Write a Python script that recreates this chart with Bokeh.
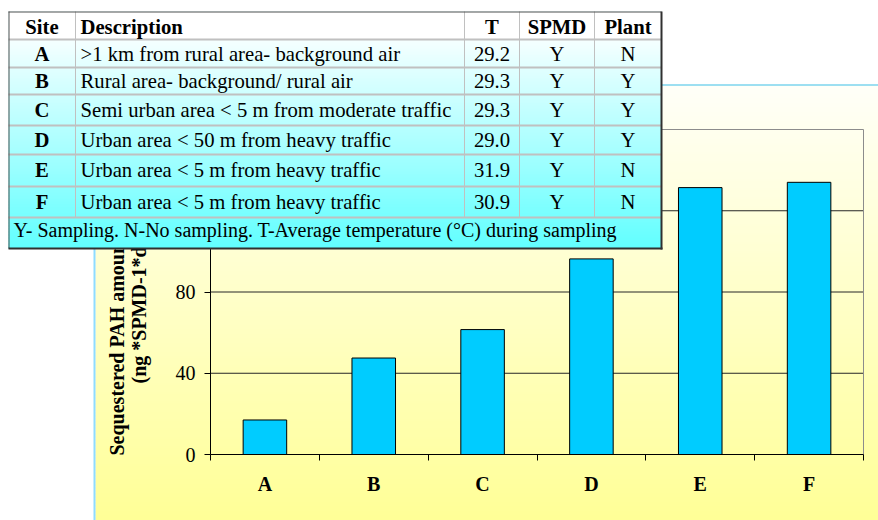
import math
from bokeh.plotting import figure
from bokeh.models import Range1d, FixedTicker, BoxAnnotation, Label
from bokeh.embed import file_html
from bokeh.resources import INLINE

# ---------------- data ----------------
sites = ["A", "B", "C", "D", "E", "F"]
pah_amount = [17, 47.5, 61.5, 96.3, 131.4, 134]
y_ticks = [0, 40, 80, 120, 160]

table_header = ["Site", "Description", "T", "SPMD", "Plant"]
descriptions = [
    ">1 km from rural area- background air",
    "Rural area- background/ rural air",
    "Semi urban area < 5 m from moderate traffic",
    "Urban area < 50 m from heavy traffic",
    "Urban area < 5 m from heavy traffic",
    "Urban area < 5 m from heavy traffic",
]
temperature = ["29.2", "29.3", "29.3", "29.0", "31.9", "30.9"]
spmd = ["Y", "Y", "Y", "Y", "Y", "Y"]
plant = ["N", "Y", "Y", "Y", "N", "N"]
footnote = "Y- Sampling. N-No sampling. T-Average temperature (\u00b0C) during sampling"
y_title = ["Sequestered PAH amount", "(ng *SPMD-1*day-1)"]

# ---------------- layout ----------------
W, H = 878, 520
SERIF = "Liberation Serif"
PX_LEFT, PX_RIGHT, PX_TOP, PX_BOTTOM = 210, 863, 129, 454
n = len(sites)
y_lo, y_hi = y_ticks[0], y_ticks[-1]
ux = (PX_RIGHT - PX_LEFT) / n
uy = (PX_BOTTOM - PX_TOP) / (y_hi - y_lo)
x_range = Range1d(0.5 - PX_LEFT / ux, n + 0.5 + (W - PX_RIGHT) / ux)
y_range = Range1d(y_lo - (H - PX_BOTTOM) / uy, y_hi + PX_TOP / uy)

p = figure(width=W, height=H, output_backend="svg", toolbar_location=None,
           x_range=x_range, y_range=y_range)
p.min_border = 0
p.min_border_left = p.min_border_right = p.min_border_top = p.min_border_bottom = 0
p.border_fill_color = "white"
p.background_fill_color = "white"
p.outline_line_color = None
p.xgrid.visible = False
p.ygrid.visible = False


def cbox(l, r, t, b, color, level):
    p.add_layout(BoxAnnotation(left=l, right=r, top=t, bottom=b,
                               left_units="canvas", right_units="canvas",
                               top_units="canvas", bottom_units="canvas",
                               fill_color=color, fill_alpha=1.0, line_color=None,
                               line_alpha=0, level=level))


# background gradient of the chart area
bg_left, bg_top = 95, 85
top_rgb = (255, 255, 248)
bot_rgb = (255, 255, 150)
step = 3
y = bg_top
while y < H:
    t = (y - bg_top) / (H - bg_top)
    col = tuple(int(round(a + (b - a) * t)) for a, b in zip(top_rgb, bot_rgb))
    cbox(bg_left, W, y, min(y + step + 1, H), "#%02x%02x%02x" % col, "image")
    y += step
cbox(bg_left, W, bg_top - 1, bg_top, "#3cbfe6", "image")
cbox(bg_left - 2, bg_left, bg_top, H, "#8fdcff", "image")

# grid lines and plot border
xs = [i + 1 for i in range(n)]
grid_vals = y_ticks[1:-1]
p.segment(x0=[0.5] * len(grid_vals), x1=[n + 0.5] * len(grid_vals),
          y0=grid_vals, y1=grid_vals, line_color="#262626", line_width=1)
p.segment(x0=[0.5, n + 0.5], x1=[n + 0.5, n + 0.5], y0=[y_hi, 0], y1=[y_hi, y_hi],
          line_color="#8c8c8c", line_width=1)

# bars
p.vbar(x=xs, top=pah_amount, width=0.4, bottom=0,
       fill_color="#00ccff", line_color="black", line_width=1)

# axes (fixed inside the full-canvas frame)
xa = p.xaxis[0]
xa.fixed_location = 0
xa.bounds = (0.5, n + 0.5)
xa.ticker = FixedTicker(ticks=xs, minor_ticks=[i + 0.5 for i in range(n + 1)])
xa.major_label_overrides = {x: s for x, s in zip(xs, sites)}
xa.major_tick_line_color = None
xa.major_tick_out = 0
xa.major_tick_in = 0
xa.minor_tick_line_color = "black"
xa.minor_tick_out = 6
xa.minor_tick_in = 0
xa.axis_line_color = "black"
xa.major_label_standoff = 12
xa.major_label_text_font = SERIF
xa.major_label_text_font_style = "bold"
xa.major_label_text_font_size = "20px"
xa.major_label_text_color = "black"

ya = p.yaxis[0]
ya.fixed_location = 0.5
ya.bounds = (y_lo, y_hi)
ya.ticker = FixedTicker(ticks=y_ticks, minor_ticks=[])
ya.major_tick_out = 6
ya.major_tick_in = 0
ya.major_tick_line_color = "black"
ya.minor_tick_line_color = None
ya.axis_line_color = "black"
ya.major_label_standoff = 9
ya.major_label_text_font = SERIF
ya.major_label_text_font_size = "20px"
ya.major_label_text_color = "black"

# y-axis title (two lines, rotated)
for (tx, ty), txt_ in zip([(116, 455), (138, 383)], y_title):
    p.add_layout(Label(x=tx, y=ty, x_units="canvas", y_units="canvas", text=txt_,
                       angle=math.pi / 2, text_align="left", text_baseline="middle",
                       text_font=SERIF, text_font_style="bold", text_font_size="20px",
                       text_color="black", level="annotation"))

# ---------------- table overlay ----------------
col_x = [8, 75, 464, 519, 594, 661]
row_y = [11, 39, 67, 94, 125, 154, 186, 217, 248]
baselines = [26, 53, 80, 109, 139, 169, 201, 229]

# solid base so nothing behind the table shows through
cbox(col_x[0], col_x[-1], row_y[0], row_y[-1], "#c8ffff", "overlay")
cbox(col_x[0], col_x[-1], row_y[0], row_y[1], "white", "overlay")
t_rgb = (244, 255, 255)
b_rgb = (96, 255, 255)
yy = row_y[1]
while yy < row_y[-1]:
    t = (yy - row_y[1]) / (row_y[-1] - row_y[1])
    col = tuple(int(round(a + (b - a) * t)) for a, b in zip(t_rgb, b_rgb))
    cbox(col_x[0], col_x[-1], yy, min(yy + 4, row_y[-1]), "#%02x%02x%02x" % col, "overlay")
    yy += 3
for ry in row_y[1:-1]:
    cbox(col_x[0], col_x[-1], ry - 1, ry + 1, "#c0c0c0", "overlay")
for cx in col_x[1:-1]:
    cbox(cx - 0.5, cx + 0.5, row_y[0], row_y[-2], "#c0c0c0", "overlay")
cbox(col_x[0], col_x[-1], row_y[0], row_y[0] + 1, "#505050", "overlay")
cbox(col_x[0], col_x[0] + 1, row_y[0], row_y[-1], "#505050", "overlay")
cbox(col_x[-1] - 1, col_x[-1] + 1, row_y[0], row_y[-1] + 1, "#303030", "overlay")
cbox(col_x[0], col_x[-1] + 1, row_y[-1] - 1, row_y[-1] + 1, "#303030", "overlay")


def txt(x, y, s, align="center", bold=False, size="20.7px"):
    p.add_layout(Label(x=x, y=y, x_units="canvas", y_units="canvas", text=s,
                       text_align=align, text_baseline="alphabetic",
                       text_font=SERIF, text_font_size=size,
                       text_font_style="bold" if bold else "normal",
                       text_color="black", level="overlay"))


centers = [(col_x[i] + col_x[i + 1]) / 2 for i in range(len(col_x) - 1)]
desc_x = col_x[1] + 5
for i, h in enumerate(table_header):
    if i == 1:
        txt(desc_x, baselines[0], h, align="left", bold=True)
    else:
        txt(centers[i], baselines[0], h, bold=True)
for r in range(n):
    bl = baselines[r + 1]
    txt(centers[0], bl, sites[r], bold=True)
    txt(desc_x, bl, descriptions[r], align="left")
    txt(centers[2], bl, temperature[r])
    txt(centers[3], bl, spmd[r])
    txt(centers[4], bl, plant[r])
txt(col_x[0] + 5, baselines[-1], footnote, align="left", size="20px")

open("out.html", "w").write(file_html(p, INLINE))
